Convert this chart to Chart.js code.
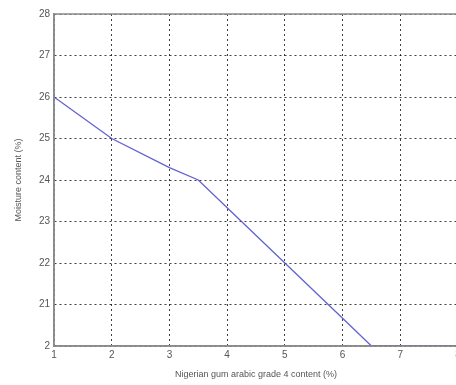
<!DOCTYPE html>
<html>
<head>
<meta charset="utf-8">
<script src="https://cdn.jsdelivr.net/npm/chart.js@4"></script>
<style>
    body { margin: 0; background: #fff; overflow: hidden; }
    #wrap { width: 456px; height: 385px; overflow: hidden; }
</style>
</head>
<body>
<div id="wrap"><canvas id="moisture-chart" width="470" height="385"></canvas></div>
<script>
// Gum arabic content (%) and measured moisture content (%)
const gumContent = [1, 2, 3, 3.5, 4, 5, 6, 6.5, 7, 8];
const moisture = [26, 25, 24.3, 24, 23.33, 22, 20.67, 20, 20, 20];

// Axis tick values and the labels printed next to them
const xTicks = [1, 2, 3, 4, 5, 6, 7, 8];
const yTicks = [20, 21, 22, 23, 24, 25, 26, 27, 28];
const yTickLabels = ['2', '21', '22', '23', '24', '25', '26', '27', '28'];

const tickFont = { family: 'Liberation Sans, Arial, sans-serif', size: 10 };
const titleFont = { family: 'Liberation Sans, Arial, sans-serif', size: 9 };

// Solid frame around the plot area, like the top and right axis lines
const frame = {
    id: 'frame',
    afterDraw(chart) {
        const { ctx, chartArea: a } = chart;
        ctx.save();
        ctx.strokeStyle = '#8a8a8a';
        ctx.lineWidth = 1.5;
        ctx.strokeRect(a.left, a.top, a.right - a.left, a.bottom - a.top);
        ctx.restore();
    }
};

const ctx = document.getElementById('moisture-chart').getContext('2d');
new Chart(ctx, {
    type: 'line',
    data: {
        datasets: [{
            data: gumContent.map((x, i) => ({ x, y: moisture[i] })),
            borderColor: 'rgba(70, 70, 200, 0.85)',
            borderWidth: 1.3,
            pointRadius: 0,
            tension: 0,
            fill: false
        }]
    },
    options: {
        responsive: false,
        animation: false,
        layout: { padding: { top: 14, right: 12, left: 0, bottom: 0 } },
        plugins: { legend: { display: false }, tooltip: { enabled: false } },
        scales: {
            x: {
                type: 'linear',
                min: 1,
                max: 8,
                afterBuildTicks: s => { s.ticks = xTicks.map(v => ({ value: v })); },
                afterFit: s => { s.height = 39; },
                grid: { color: 'rgba(0,0,0,0.75)', drawTicks: false },
                border: { dash: [2, 3], color: '#8a8a8a', width: 1.5 },
                ticks: { color: '#555', font: tickFont, padding: 3, maxRotation: 0 },
                title: {
                    display: true,
                    text: 'Nigerian gum arabic grade 4 content (%)',
                    color: '#555',
                    font: titleFont,
                    padding: { top: 1, bottom: 5 }
                }
            },
            y: {
                min: 20,
                max: 28,
                afterBuildTicks: s => { s.ticks = yTicks.map(v => ({ value: v })); },
                afterFit: s => { s.width = 54; },
                grid: { color: 'rgba(0,0,0,0.75)', drawTicks: false },
                border: { dash: [2, 3], color: '#8a8a8a', width: 1.5 },
                ticks: {
                    color: '#555',
                    font: tickFont,
                    padding: 4,
                    callback: v => yTickLabels[yTicks.indexOf(v)]
                },
                title: {
                    display: true,
                    text: 'Moisture content (%)',
                    color: '#555',
                    font: titleFont,
                    padding: { top: 13, bottom: 0 }
                }
            }
        }
    },
    plugins: [frame]
});
</script>
</body>
</html>
